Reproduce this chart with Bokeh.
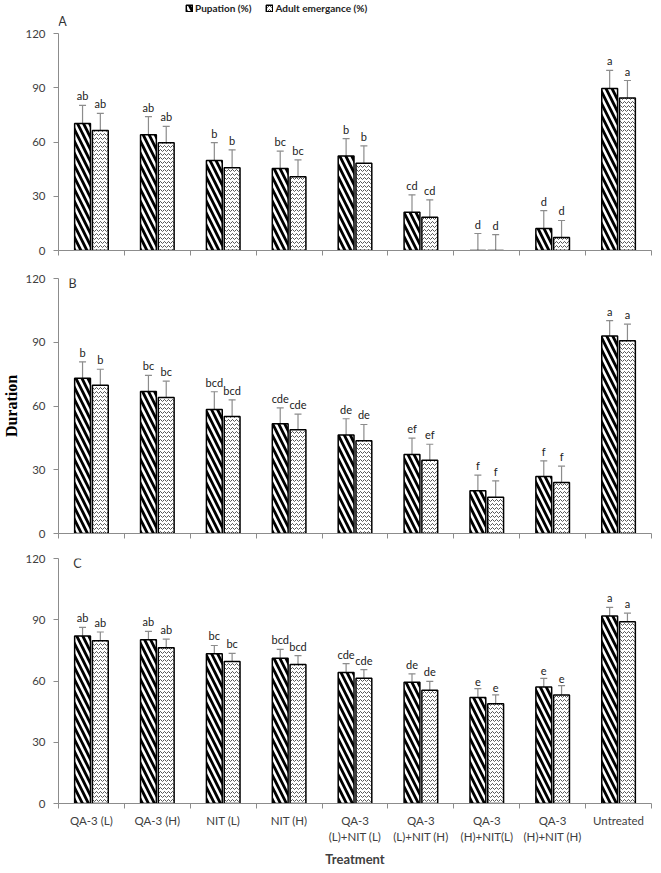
import numpy as np
from bokeh.plotting import figure
from bokeh.models import (ColumnDataSource, Range1d, FixedTicker, Whisker, TeeHead,
                          Legend, LegendItem, Label)
from bokeh.layouts import column
from bokeh.core.properties import value
from bokeh.embed import file_html
from bokeh.resources import INLINE

# ---------------- data ----------------
treatments = ["QA-3 (L)", "QA-3 (H)", "NIT (L)", "NIT (H)", "QA-3\n(L)+NIT (L)",
              "QA-3\n(L)+NIT (H)", "QA-3\n(H)+NIT(L)", "QA-3\n(H)+NIT (H)", "Untreated"]
series_names = ["Pupation (%)", "Adult emergance (%)"]
y_ticks = [0, 30, 60, 90, 120]
y_max = 120
panel_names = ["A", "B", "C"]

A_pup = [70.2, 64.0, 49.8, 45.4, 52.2, 21.2, 0.0, 12.2, 89.6]
A_pup_err = [10.0, 10.0, 9.9, 9.5, 9.7, 9.6, 9.4, 9.9, 10.0]
A_emg = [66.4, 59.6, 45.7, 40.8, 48.3, 18.4, 0.0, 7.2, 84.4]
A_emg_err = [9.4, 9.0, 10.0, 9.3, 9.6, 9.6, 8.8, 9.4, 9.6]
A_let = ["ab", "ab", "b", "bc", "b", "cd", "d", "d", "a"]

B_pup = [73.1, 66.8, 58.4, 51.6, 46.3, 37.2, 20.1, 26.8, 92.9]
B_pup_err = [7.7, 7.6, 8.3, 7.5, 7.7, 7.7, 7.4, 7.4, 7.3]
B_emg = [69.8, 64.0, 55.1, 48.8, 43.6, 34.5, 17.1, 24.0, 90.7]
B_emg_err = [7.5, 7.7, 7.8, 7.4, 7.7, 7.5, 7.7, 7.7, 7.8]
B_let = ["b", "bc", "bcd", "cde", "de", "ef", "f", "f", "a"]

C_pup = [82.1, 80.2, 73.4, 71.1, 64.2, 59.4, 51.9, 57.1, 91.8]
C_pup_err = [4.2, 4.1, 4.0, 4.4, 4.3, 4.1, 4.4, 4.2, 4.3]
C_emg = [79.7, 76.3, 69.5, 68.1, 61.3, 55.5, 48.9, 53.2, 89.0]
C_emg_err = [4.3, 4.2, 4.0, 4.3, 4.3, 4.3, 4.3, 4.5, 4.2]
C_let = ["ab", "ab", "bc", "bcd", "cde", "de", "e", "e", "a"]

panels = [
    (A_pup, A_pup_err, A_emg, A_emg_err, A_let),
    (B_pup, B_pup_err, B_emg, B_emg_err, B_let),
    (C_pup, C_pup_err, C_emg, C_emg_err, C_let),
]

# ---------------- styling / layout ----------------
FONT = "Lato"
AXIS_COL = "#8c8c8c"
TXT_COL = "#404040"
ERR_COL = "#8c8c8c"
W = 653
LEFT = 52
FRAME_W = 599
axis_h = [217, 255, 246]      # pixel height of the 0..120 span
extra_top = [33, 0, 0]        # frame space above 120 (legend/letter area in A)
top_b = [0, 8, 8]
bot_b = [20, 17, 66]
OFF = 0.135
BW = 0.24

n = len(treatments)
centers = list(range(n))
bounds = [i - 0.5 for i in range(n + 1)]

figs = []
for k, (pup, pup_e, emg, emg_e, let) in enumerate(panels):
    fh = axis_h[k] + extra_top[k]
    h = top_b[k] + fh + bot_b[k]
    y_end = y_max * fh / axis_h[k]
    p = figure(width=W, height=h, output_backend="svg", toolbar_location=None,
               x_range=Range1d(-0.5, n - 0.5), y_range=Range1d(0, y_end),
               min_border_left=LEFT, min_border_right=W - LEFT - FRAME_W,
               min_border_top=top_b[k], min_border_bottom=bot_b[k])
    p.outline_line_color = None
    p.grid.visible = False
    p.background_fill_color = "white"
    p.border_fill_color = "white"

    xs = np.array(centers, dtype=float)
    rends = []
    for j, (vals, errs, pat, sc, wt, hc) in enumerate([
            (pup, pup_e, "left_diagonal_line", 12, 2.8, "black"),
            (emg, emg_e, "horizontal_wave", 4, 0.9, "#444444")]):
        xx = xs + (-OFF if j == 0 else OFF)
        vals = np.array(vals)
        errs = np.array(errs)
        src = ColumnDataSource(dict(x=xx, top=vals, upper=vals + errs,
                                    lower=np.maximum(vals - errs, 0), let=let))
        r = p.vbar(x="x", top="top", bottom=0, width=BW, source=src,
                   fill_color="white", line_color="black", line_width=1.5,
                   hatch_pattern=pat, hatch_scale=sc, hatch_weight=wt,
                   hatch_color=hc)
        rends.append(r)
        wh = Whisker(source=src, base="x", upper="upper", lower="lower",
                     line_color=ERR_COL, line_width=1.2,
                     upper_head=TeeHead(size=7, line_color=ERR_COL, line_width=1.2),
                     lower_head=None)
        p.add_layout(wh)
        p.text(x="x", y="upper", text="let", source=src, text_align="center",
               text_baseline="bottom", y_offset=-3, text_font=value(FONT),
               text_font_size="11px", text_color="#222222")

    # axes
    p.yaxis.ticker = FixedTicker(ticks=y_ticks)
    p.yaxis.bounds = (0, y_max)
    p.yaxis.axis_line_color = AXIS_COL
    p.yaxis.major_tick_line_color = AXIS_COL
    p.yaxis.major_tick_out = 5
    p.yaxis.major_tick_in = 0
    p.yaxis.minor_tick_line_color = None
    p.yaxis.major_label_standoff = 8
    p.yaxis.major_label_text_font = FONT
    p.yaxis.major_label_text_font_size = "11.5px"
    p.yaxis.major_label_text_color = TXT_COL

    p.xaxis.axis_line_color = AXIS_COL
    p.xaxis.major_tick_line_color = None
    p.xaxis.minor_tick_line_color = AXIS_COL
    p.xaxis.minor_tick_out = 5
    p.xaxis.minor_tick_in = 0
    p.xaxis.major_label_text_font = FONT
    p.xaxis.major_label_text_color = TXT_COL
    if k < 2:
        p.xaxis.ticker = FixedTicker(ticks=[], minor_ticks=bounds)
        p.xaxis.major_label_standoff = 0
    else:
        p.xaxis.ticker = FixedTicker(ticks=centers, minor_ticks=bounds)
        p.xaxis.major_label_overrides = {i: t for i, t in enumerate(treatments)}
        p.xaxis.major_label_text_font_size = "11.5px"
        p.xaxis.major_label_text_line_height = 1.3
        p.xaxis.major_label_standoff = 4
        p.xaxis.axis_label = "Treatment"
        p.xaxis.axis_label_text_font = FONT
        p.xaxis.axis_label_text_font_style = "bold"
        p.xaxis.axis_label_text_font_size = "13px"
        p.xaxis.axis_label_text_color = TXT_COL
        p.xaxis.axis_label_standoff = 5
    if k == 1:
        p.yaxis.axis_label = "Duration"
        p.yaxis.axis_label_text_font = "Liberation Serif"
        p.yaxis.axis_label_text_font_style = "bold"
        p.yaxis.axis_label_text_font_size = "16px"
        p.yaxis.axis_label_text_color = "black"
        p.yaxis.axis_label_standoff = 2

    # panel letter
    if k == 0:
        lab = Label(x=-0.5, y=y_max, x_offset=4, y_offset=12, text=panel_names[k],
                    text_align="center", text_baseline="middle")
    else:
        lab = Label(x=-0.5, y=y_max, x_offset=14 + 5 * (k - 1), y_offset=-5,
                    text=panel_names[k], text_align="center", text_baseline="middle")
    lab.text_font = FONT
    lab.text_font_size = "12.5px"
    lab.text_color = "#333333"
    p.add_layout(lab)

    if k == 0:
        leg = Legend(items=[LegendItem(label=series_names[0], renderers=[rends[0]]),
                            LegendItem(label=series_names[1], renderers=[rends[1]])],
                     orientation="horizontal", location=(127, fh - 14))
        leg.background_fill_alpha = 0
        leg.border_line_color = None
        leg.glyph_width = 8
        leg.glyph_height = 8
        leg.padding = 1
        leg.margin = 0
        leg.spacing = 14
        leg.label_standoff = 2
        leg.label_text_font = FONT
        leg.label_text_font_style = "bold"
        leg.label_text_font_size = "10px"
        leg.label_text_color = "#222222"
        leg.label_height = 10
        p.add_layout(leg, "center")

    figs.append(p)

layout = column(*figs, spacing=0)
open("out.html", "w").write(file_html(layout, INLINE))
